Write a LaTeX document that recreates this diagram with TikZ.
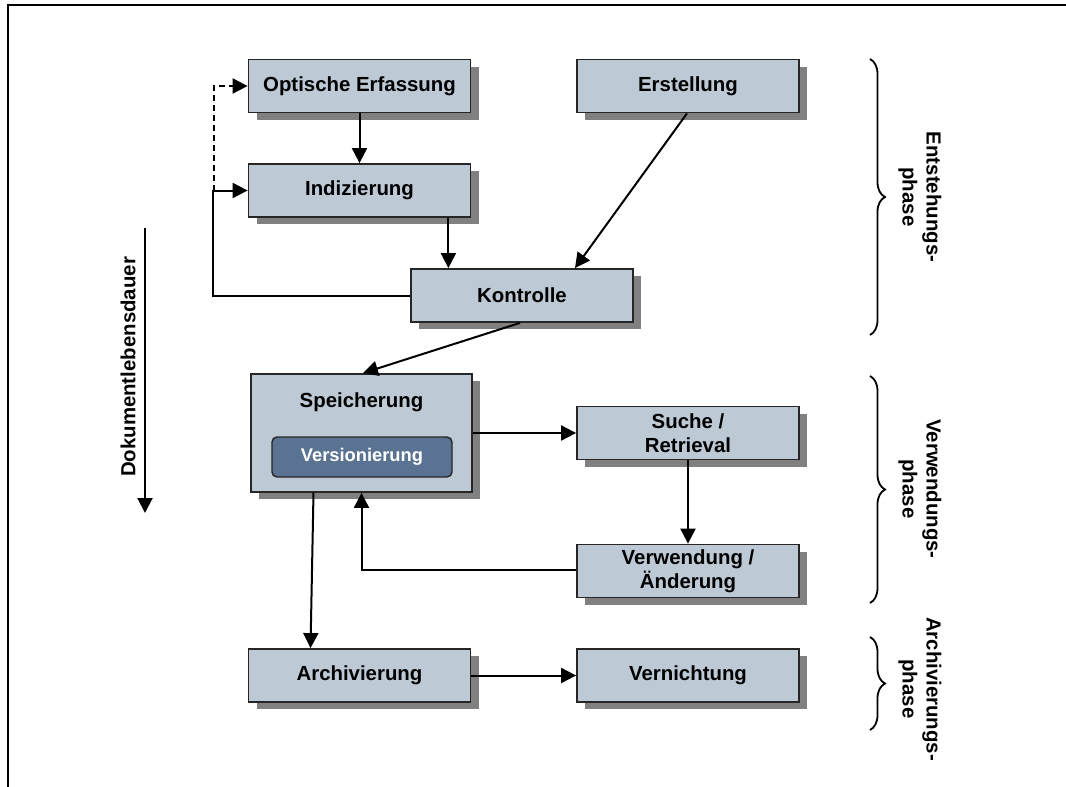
\documentclass[tikz,border=0pt]{standalone}
\usepackage{fontspec}
\setmainfont{Liberation Sans}
\usetikzlibrary{arrows.meta,shadows,decorations.pathreplacing}

\definecolor{boxfill}{HTML}{BDCAD6}
\definecolor{verfill}{HTML}{5B7393}
\definecolor{shade}{HTML}{808080}
\definecolor{ink}{HTML}{000000}

\begin{document}
\begin{tikzpicture}[x=1pt,y=-1pt,
  font=\fontsize{20.4}{24}\selectfont\bfseries,
  >={Triangle[length=15pt,width=15pt]},
  conn/.style={line width=2pt,->,draw=ink},
  proc/.style={draw=ink!85, line width=1.8pt, fill=boxfill, text=ink,
    minimum width=222pt, minimum height=53pt, align=center, inner sep=0pt,
    drop shadow={shadow xshift=8pt, shadow yshift=-7pt, fill=shade, opacity=1}},
  subproc/.style={draw=ink!85, line width=1.4pt, fill=verfill, text=white,
    rounded corners=5pt, minimum width=180pt, minimum height=40pt, inner sep=0pt,
    font=\fontsize{18.3}{22}\selectfont\bfseries},
  phasebrace/.style={line width=1.8pt, draw=ink,
    decorate, decoration={brace, amplitude=15pt}},
  phaselabel/.style={rotate=-90, align=center, text=ink},
]
\useasboundingbox (0,0) rectangle (1066,787);

% frame
\draw[line width=2.2pt, ink] (8,787) -- (8,5) -- (1066,5);

% process boxes
\node[proc] (opt)  at (359.5,86)  {Optische Erfassung};
\node[proc] (ind)  at (359.5,190.5) {Indizierung};
\node[proc] (ers)  at (688,86)    {Erstellung};
\node[proc] (kon)  at (522,295.5) {Kontrolle};
\node[proc, minimum width=221pt, minimum height=118pt] (spe) at (361.5,433) {};
\node[text=ink] (spetxt) at (361.5,402) {Speicherung};
\node[subproc] (ver) at (362,457) {Versionierung};
\node[proc] (such) at (688,433)   {Suche /\\Retrieval};
\node[proc] (verw) at (688,571)   {Verwendung /\\Änderung};
\node[proc] (arch) at (359.5,675.5) {Archivierung};
\node[proc] (vern) at (688,675.5) {Vernichtung};

% connectors
\draw[conn] (opt.south) -- (ind.north);
\draw[conn] ([xshift=-23pt]ind.south east) -- ([xshift=-23pt]ind.south east |- kon.north);
\draw[conn] ([xshift=-1pt]ers.south) -- ([xshift=53pt]kon.north);
\draw[conn] (kon.west) -- ++(-197,0) |- (ind.west);
\draw[conn, dash pattern=on 6pt off 4pt] ([xshift=-34pt]ind.west) |- (opt.west);
\draw[conn] ([xshift=-2pt]kon.south) -- ([xshift=1.5pt]spe.north);
\draw[conn] (spe.east) -- (such.west);
\draw[conn] (such.south) -- (verw.north);
\draw[conn] ([yshift=1pt]verw.west) -| (spe.south);
\draw[conn] ([xshift=-48pt]spe.south) -- ([xshift=-49pt]arch.north);
\draw[conn] (arch.east) -- (vern.west);

% document lifetime axis
\coordinate (life0) at (145,228);
\coordinate (life1) at (145,513);
\draw[conn] (life0) -- (life1);
\node[rotate=90, text=ink] (lifetxt) at (128,367) {Dokumentlebensdauer};

% phase braces
\coordinate (b1a) at (870,59);  \coordinate (b1b) at (870,335);
\coordinate (b2a) at (870,376); \coordinate (b2b) at (870,603);
\coordinate (b3a) at (870,637); \coordinate (b3b) at (870,730);
\draw[phasebrace] (b1a) -- (b1b);
\draw[phasebrace] (b2a) -- (b2b);
\draw[phasebrace] (b3a) -- (b3b);
\node[phaselabel] (ph1) at (920,197) {Entstehungs-\\phase};
\node[phaselabel] (ph2) at (920,489) {Verwendungs-\\phase};
\node[phaselabel] (ph3) at (920,689) {Archivierungs-\\phase};
\end{tikzpicture}
\end{document}
